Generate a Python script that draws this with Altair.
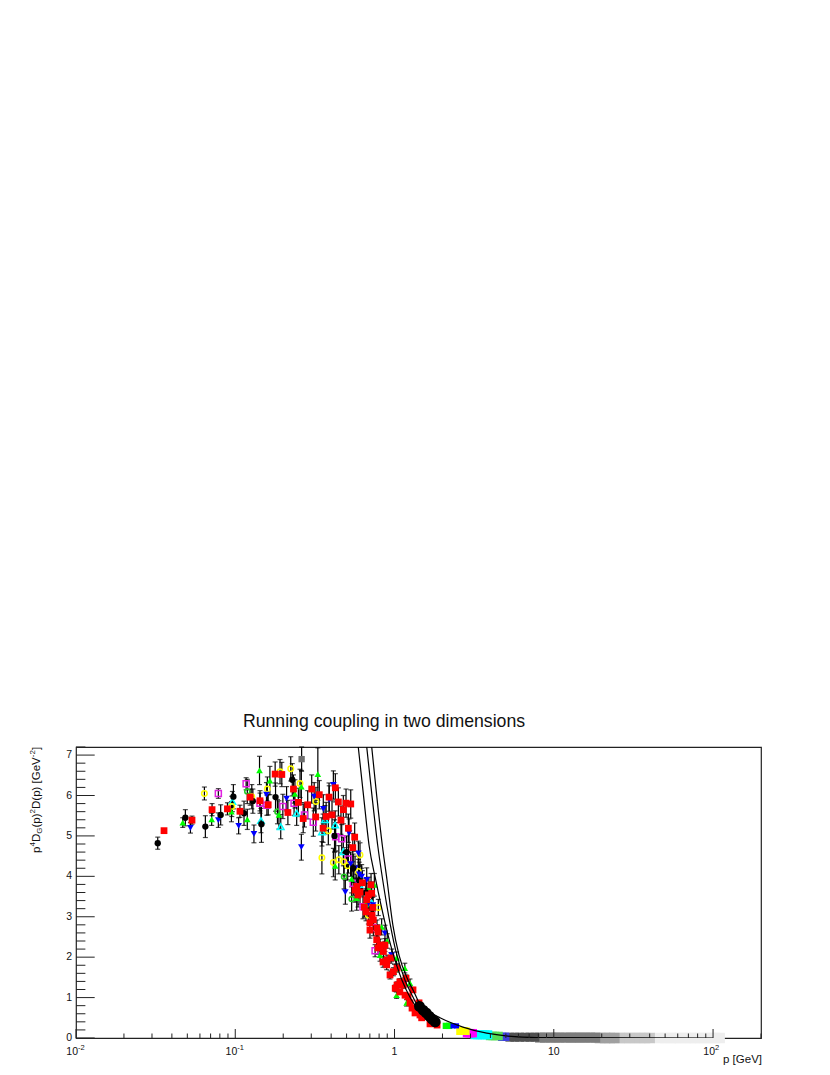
import altair as alt
import pandas as pd

FONT = "Liberation Sans"
W, H = 685, 291

# ---- open green circles
gc_p = [0.119, 0.184, 0.482, 0.538]
gc_y = [6.10, 5.60, 3.99, 3.44]
gc_e = [0.30, 0.30, 0.30, 0.30]
# ---- open cyan triangles
ct_p = [0.0959, 0.145, 0.193, 0.243, 0.35, 0.366, 0.424, 0.477, 0.6, 0.719]
ct_y = [5.85, 5.38, 5.23, 5.56, 5.10, 5.40, 5.27, 4.61, 3.80, 3.34]
ct_e = [0.25, 0.30, 0.30, 0.30, 0.35, 0.35, 0.35, 0.35, 0.30, 0.25]
# ---- open magenta squares
ms_p = [0.0783, 0.117, 0.143, 0.158, 0.199, 0.234, 0.272, 0.309, 0.427, 0.466, 0.513, 0.551, 0.634, 0.736, 0.755]
ms_y = [6.05, 6.29, 5.81, 5.76, 5.73, 5.81, 5.52, 5.34, 4.98, 4.93, 4.43, 3.83, 3.25, 2.73, 2.16]
ms_e = [0.12, 0.15, 0.25, 0.25, 0.30, 0.30, 0.30, 0.35, 0.35, 0.35, 0.35, 0.30, 0.30, 0.20, 0.15]
# ---- open yellow circles
yc_p = [0.064, 0.0951, 0.127, 0.159, 0.191, 0.223, 0.255, 0.321, 0.384, 0.35, 0.413, 0.447, 0.48, 0.508, 0.593, 0.607, 0.791, 0.685]
yc_y = [6.05, 5.73, 5.97, 6.16, 6.59, 6.66, 6.30, 5.85, 5.13, 4.46, 4.34, 4.41, 4.36, 4.26, 4.12, 4.53, 3.23, 3.04]
yc_e = [0.16, 0.25, 0.30, 0.30, 0.30, 0.30, 0.35, 0.35, 0.35, 0.40, 0.35, 0.35, 0.35, 0.35, 0.30, 0.30, 0.20, 0.22]
# ---- blue down triangles
bt_p = [0.0523, 0.0783, 0.105, 0.131, 0.157, 0.21, 0.26, 0.313, 0.357, 0.413, 0.389, 0.491, 0.518, 0.565, 0.593,
        0.622, 0.669, 0.871, 0.96, 1.16, 0.733, 0.68, 0.53, 0.6]
bt_y = [5.20, 5.39, 5.25, 5.05, 6.02, 5.92, 4.72, 5.97, 5.67, 6.26, 5.89, 3.61, 5.07, 4.20, 4.57,
        3.99, 3.91, 2.59, 2.05, 1.39, 3.29, 3.30, 4.30, 4.05]
bt_e = [0.13, 0.18, 0.20, 0.22, 0.30, 0.30, 0.32, 0.35, 0.35, 0.35, 0.35, 0.30, 0.35, 0.30, 0.30,
        0.30, 0.30, 0.20, 0.15, 0.10, 0.25, 0.25, 0.30, 0.30]
# ---- green up triangles
gt_p = [0.0468, 0.0711, 0.0946, 0.119, 0.142, 0.165, 0.188, 0.237, 0.26, 0.33, 0.424, 0.538,
        0.83, 0.811, 1.03, 1.16, 1.25, 1.19, 1.03, 0.747, 0.579, 0.62, 0.69, 0.66, 0.9, 1.0]
gt_y = [5.33, 5.41, 5.60, 5.41, 6.62, 6.37, 5.52, 6.04, 6.22, 6.53, 4.26, 3.94,
        2.75, 2.05, 1.98, 1.73, 1.36, 0.87, 1.06, 3.79, 3.46, 3.90, 3.70, 3.30, 2.40, 1.70]
gt_e = [0.12, 0.15, 0.25, 0.25, 0.35, 0.35, 0.35, 0.35, 0.40, 0.65, 0.35, 0.35,
        0.20, 0.15, 0.15, 0.12, 0.10, 0.08, 0.08, 0.28, 0.30, 0.30, 0.28, 0.28, 0.18, 0.12]
# ---- black circles
bc_p = [0.0326, 0.0486, 0.0649, 0.081, 0.0973, 0.1135, 0.129, 0.146, 0.179, 0.228,
        0.42, 0.50, 0.55, 0.60, 0.66, 0.72]
bc_y = [4.82, 5.45, 5.23, 5.52, 5.97, 5.56, 5.86, 5.29, 5.96, 6.39,
        5.00, 4.60, 4.20, 3.90, 3.60, 3.20]
bc_e = [0.15, 0.20, 0.27, 0.25, 0.30, 0.30, 0.30, 0.45, 0.35, 0.40,
        0.40, 0.40, 0.35, 0.35, 0.35, 0.30]
# ---- grey square
gs_p = [0.261]
gs_y = [6.90]
gs_e = [0.30]
# ---- red squares
rs_p = [0.0357, 0.0535, 0.0715, 0.0893, 0.107, 0.124, 0.143, 0.161, 0.178, 0.196, 0.214, 0.232, 0.249, 0.267,
        0.285, 0.302, 0.32, 0.337, 0.356, 0.372, 0.388, 0.405, 0.425, 0.444, 0.461, 0.477, 0.496, 0.531,
        0.513, 0.562, 0.547, 0.579, 0.628, 0.607, 0.685, 0.669, 0.719, 0.646, 0.73, 0.736, 0.701, 0.773,
        0.787, 0.851, 0.811, 0.893, 0.983, 0.897, 1.08, 1.01, 1.135, 1.216, 1.08, 1.377, 1.345, 1.48,
        1.25, 0.565, 0.59, 0.712, 0.662, 0.722, 0.701, 0.776, 0.788, 0.871, 0.847, 0.951, 0.937,
        1.037, 1.037, 1.181, 1.164, 1.306, 1.288, 1.425, 1.445, 1.6, 1.67, 1.85]
rs_y = [5.13, 5.39, 5.65, 5.67, 5.61, 5.96, 5.87, 5.77, 6.53, 6.52, 5.58, 6.16, 5.83, 5.43,
        5.77, 6.16, 5.47, 6.02, 5.19, 5.48, 5.96, 5.52, 6.19, 5.84, 5.39, 5.65, 5.81, 5.79,
        5.19, 4.97, 4.71, 3.75, 3.84, 3.61, 3.54, 3.42, 3.58, 3.24, 3.23, 2.92, 2.85, 2.43,
        2.62, 2.14, 2.30, 1.81, 1.64, 1.93, 1.39, 1.23, 1.31, 1.02, 1.14, 0.74, 0.62, 0.50,
        0.87, 3.66, 3.54, 3.79, 3.12, 3.04, 2.67, 2.72, 2.23, 2.30, 1.88, 1.98, 1.56,
        1.73, 1.31, 1.48, 1.06, 1.19, 0.74, 0.87, 0.57, 0.59, 0.35, 0.32]
rs_e = [0.05, 0.10, 0.15, 0.15, 0.15, 0.20, 0.25, 0.25, 0.30, 0.30, 0.30, 0.35, 0.35, 0.35,
        0.35, 0.35, 0.35, 0.35, 0.35, 0.35, 0.35, 0.35, 0.35, 0.35, 0.35, 0.35, 0.35, 0.35,
        0.35, 0.35, 0.35, 0.30, 0.30, 0.30, 0.28, 0.28, 0.28, 0.25, 0.25, 0.22, 0.22, 0.18,
        0.18, 0.15, 0.15, 0.12, 0.10, 0.12, 0.08, 0.08, 0.08, 0.06, 0.06, 0.04, 0.04, 0.03,
        0.05, 0.30, 0.30, 0.28, 0.22, 0.22, 0.20, 0.20, 0.16, 0.16, 0.13, 0.13, 0.10,
        0.10, 0.08, 0.08, 0.06, 0.06, 0.04, 0.04, 0.03, 0.03, 0.02, 0.02]
# ---- dense large black circles
lb_p = [1.435, 1.51, 1.58, 1.65, 1.72, 1.80]
lb_y = [0.78, 0.69, 0.62, 0.54, 0.47, 0.40]
# ---- high-momentum tail: colour groups (colour, marker area, momenta, value)
tail_groups = [
    ("#eeeeee", 110, [46, 50, 54, 58, 62, 67, 72, 77, 83, 89, 96, 103, 110], 0.0),
    ("#c8c8c8", 110, [26, 28, 30, 32.4, 34.8, 37.4, 40], 0.0),
    ("#a0a0a0", 110, [19.5, 21, 22.5, 24], 0.0),
    ("#7c7c7c", 100, [8.2, 8.8, 9.5, 10.2, 10.9, 11.8, 12.7, 13.6, 14.6, 15.7, 16.9, 18.2], 0.01),
    ("#505050", 80, [5.3, 5.7, 6.1, 6.6, 7.1, 7.6], 0.02),
    ("#4040e0", 70, [4.73, 4.95], 0.03),
    ("#55dd55", 72, [3.98, 4.13, 4.28, 4.5], 0.05),
    ("#00ffff", 80, [3.2, 3.32, 3.44, 3.57, 3.7, 3.85], 0.08),
    ("#ff00ff", 70, [2.85, 2.93, 3.02, 3.1], 0.12),
    ("#ffff00", 60, [2.58, 2.65, 2.73, 2.8], 0.17),
    ("#00ff00", 40, [2.1, 2.2], 0.30),
    ("#0000ff", 26, [2.33, 2.45], 0.30),
]
# ---- three curves and their common tail
c1_p = [0.592, 0.639, 0.692, 0.762, 0.878, 0.964, 1.114, 1.251, 1.355]
c1_y = [7.2, 5.99, 4.77, 3.91, 2.80, 2.18, 1.43, 1.01, 0.79]
c2_p = [0.669, 0.722, 0.784, 0.843, 0.941, 1.022, 1.164, 1.288, 1.384]
c2_y = [7.2, 5.99, 4.77, 3.91, 2.80, 2.13, 1.43, 1.06, 0.82]
c3_p = [0.719, 0.773, 0.838, 0.897, 0.976, 1.067, 1.216, 1.325, 1.425]
c3_y = [7.2, 5.99, 4.77, 3.91, 2.80, 2.05, 1.43, 1.14, 0.87]
ct_tail_p = [1.41, 1.65, 1.93, 2.69, 3.79, 7.8, 30, 100]
ct_tail_y = [0.88, 0.65, 0.50, 0.27, 0.12, 0.01, 0.002, 0.0]
# ---- axes
x_major = [0.01, 0.1, 1, 10, 100]
x_minor = [m * d for d in [0.01, 0.1, 1, 10] for m in [2, 3, 4, 5, 6, 7, 8, 9]] + [200]
y_major = [0, 1, 2, 3, 4, 5, 6, 7]
y_minor = [i / 5 for i in range(0, 37) if i % 5 != 0]

xs = alt.Scale(type="log", domain=[0.01, 200], nice=False)
ys = alt.Scale(domain=[0, 7.2], nice=False)
X = lambda f="p": alt.X(f"{f}:Q", scale=xs, axis=None)
Y = lambda f="y": alt.Y(f"{f}:Q", scale=ys, axis=None)

series = [
    (gc_p, gc_y, gc_e, "circle", False, "#22cc22", 26),
    (ct_p, ct_y, ct_e, "triangle-up", False, "#00ffff", 42),
    (ms_p, ms_y, ms_e, "square", False, "#e020e0", 36),
    (yc_p, yc_y, yc_e, "circle", False, "#ffff00", 30),
    (bt_p, bt_y, bt_e, "triangle-down", True, "#0000ff", 44),
    (gt_p, gt_y, gt_e, "triangle-up", True, "#00ff00", 44),
    (bc_p, bc_y, bc_e, "circle", True, "#000000", 40),
    (gs_p, gs_y, gs_e, "square", True, "#6e6e6e", 40),
    (rs_p, rs_y, rs_e, "square", True, "#ff0000", 46),
]

layers = []

# tail band
for col, size, ps, v in tail_groups:
    d = pd.DataFrame({"p": ps, "y": [v] * len(ps)})
    layers.append(alt.Chart(d).mark_square(size=size, color=col, opacity=1).encode(x=X(), y=Y()))

# error bars
rows = []
for ps, yv, es, *_ in series:
    for a, b, c in zip(ps, yv, es):
        rows.append({"p": a, "lo": max(b - c, 0), "hi": min(b + c, 7.2)})
ed = pd.DataFrame(rows)
layers.append(alt.Chart(ed).mark_rule(color="#000000", strokeWidth=1.2).encode(x=X(), y=Y("lo"), y2="hi:Q"))
layers.append(alt.Chart(ed).mark_tick(orient="horizontal", size=5, thickness=1.2, color="#000000").encode(x=X(), y=Y("lo")))
layers.append(alt.Chart(ed).mark_tick(orient="horizontal", size=5, thickness=1.2, color="#000000").encode(x=X(), y=Y("hi")))

# markers
for ps, yv, es, shape, filled, col, size in series:
    d = pd.DataFrame({"p": ps, "y": yv})
    if filled:
        m = alt.Chart(d).mark_point(shape=shape, filled=True, size=size, color=col, opacity=1)
    else:
        m = alt.Chart(d).mark_point(shape=shape, filled=False, size=size, color=col, strokeWidth=1.5, opacity=1)
    layers.append(m.encode(x=X(), y=Y()))

# curves
for ps, yv in [(c1_p, c1_y), (c2_p, c2_y), (c3_p, c3_y), (ct_tail_p, ct_tail_y)]:
    d = pd.DataFrame({"p": ps, "y": yv, "o": range(len(ps))})
    layers.append(alt.Chart(d).mark_line(color="#000000", strokeWidth=1.2, interpolate="monotone", clip=True).encode(
        x=X(), y=Y(), order="o:Q"))

# large black circles
layers.append(alt.Chart(pd.DataFrame({"p": lb_p, "y": lb_y})).mark_point(
    shape="circle", filled=True, size=120, color="#000000", opacity=1).encode(x=X(), y=Y()))

# inward ticks
layers.append(alt.Chart(pd.DataFrame({"p": x_major})).mark_rule(color="#222222", strokeWidth=1).encode(
    x=X(), y=alt.value(H), y2=alt.value(H - 9)))
layers.append(alt.Chart(pd.DataFrame({"p": x_minor})).mark_rule(color="#222222", strokeWidth=1).encode(
    x=X(), y=alt.value(H), y2=alt.value(H - 4.5)))
layers.append(alt.Chart(pd.DataFrame({"y": y_major})).mark_rule(color="#222222", strokeWidth=1).encode(
    y=Y(), x=alt.value(0), x2=alt.value(18.7)))
layers.append(alt.Chart(pd.DataFrame({"y": y_minor})).mark_rule(color="#222222", strokeWidth=1).encode(
    y=Y(), x=alt.value(0), x2=alt.value(9.4)))

# x tick labels
def txt(text, size, **kw):
    return alt.Chart(pd.DataFrame({"t": [text]})).mark_text(
        text=text, font=FONT, fontSize=size, color="#111111", **kw)

xl_base = pd.DataFrame({"p": [1, 10], "t": ["1", "10"]})
layers.append(alt.Chart(xl_base).mark_text(font=FONT, fontSize=10.5, color="#111111", align="center", baseline="alphabetic").encode(
    x=X(), y=alt.value(308), text="t:N"))
xl_pow = pd.DataFrame({"p": [0.01, 0.1, 100], "t": ["10", "10", "10"], "s": ["-2", "-1", "2"]})
layers.append(alt.Chart(xl_pow).mark_text(font=FONT, fontSize=10.5, color="#111111", align="right", baseline="alphabetic", dx=2).encode(
    x=X(), y=alt.value(308), text="t:N"))
layers.append(alt.Chart(xl_pow).mark_text(font=FONT, fontSize=7.5, color="#111111", align="left", baseline="alphabetic", dx=2).encode(
    x=X(), y=alt.value(303), text="s:N"))

# y tick labels
layers.append(alt.Chart(pd.DataFrame({"y": y_major, "t": [str(v) for v in y_major]})).mark_text(
    font=FONT, fontSize=10.5, color="#111111", align="right", baseline="middle", dx=0).encode(
    y=Y(), x=alt.value(-4), text="t:N"))

# axis titles and main title
layers.append(txt("p [GeV]", 11.5, align="right", baseline="alphabetic").encode(x=alt.value(W + 1), y=alt.value(316)))
layers.append(txt("Running coupling in two dimensions", 17.7, align="center", baseline="alphabetic").encode(
    x=alt.value(308), y=alt.value(-20)))

y_title = [
    ("p", 11.5, -36.5, 106),
    ("4", 8, -41, 99.6),
    ("D", 11.5, -36.5, 95.1),
    ("G", 8, -34.3, 86.8),
    ("(p)", 11.5, -36.5, 80.5),
    ("2", 8, -41, 66.5),
    ("D(p) [GeV", 11.5, -36.5, 62),
    ("-2", 8, -41, 10.2),
    ("]", 11.5, -36.5, 3),
]
for t, s, xp, yp in y_title:
    layers.append(txt(t, s, align="left", baseline="alphabetic", angle=270).encode(x=alt.value(xp), y=alt.value(yp)))

chart = alt.layer(*layers).properties(
    width=W, height=H,
    padding={"left": 68, "top": 739, "right": 40, "bottom": 29},
    autosize=alt.AutoSizeParams(type="none"),
    background="#ffffff",
).configure_view(stroke="#222222", strokeWidth=1.2)

chart.save("out.html", embed_options={"renderer": "svg", "actions": False})
